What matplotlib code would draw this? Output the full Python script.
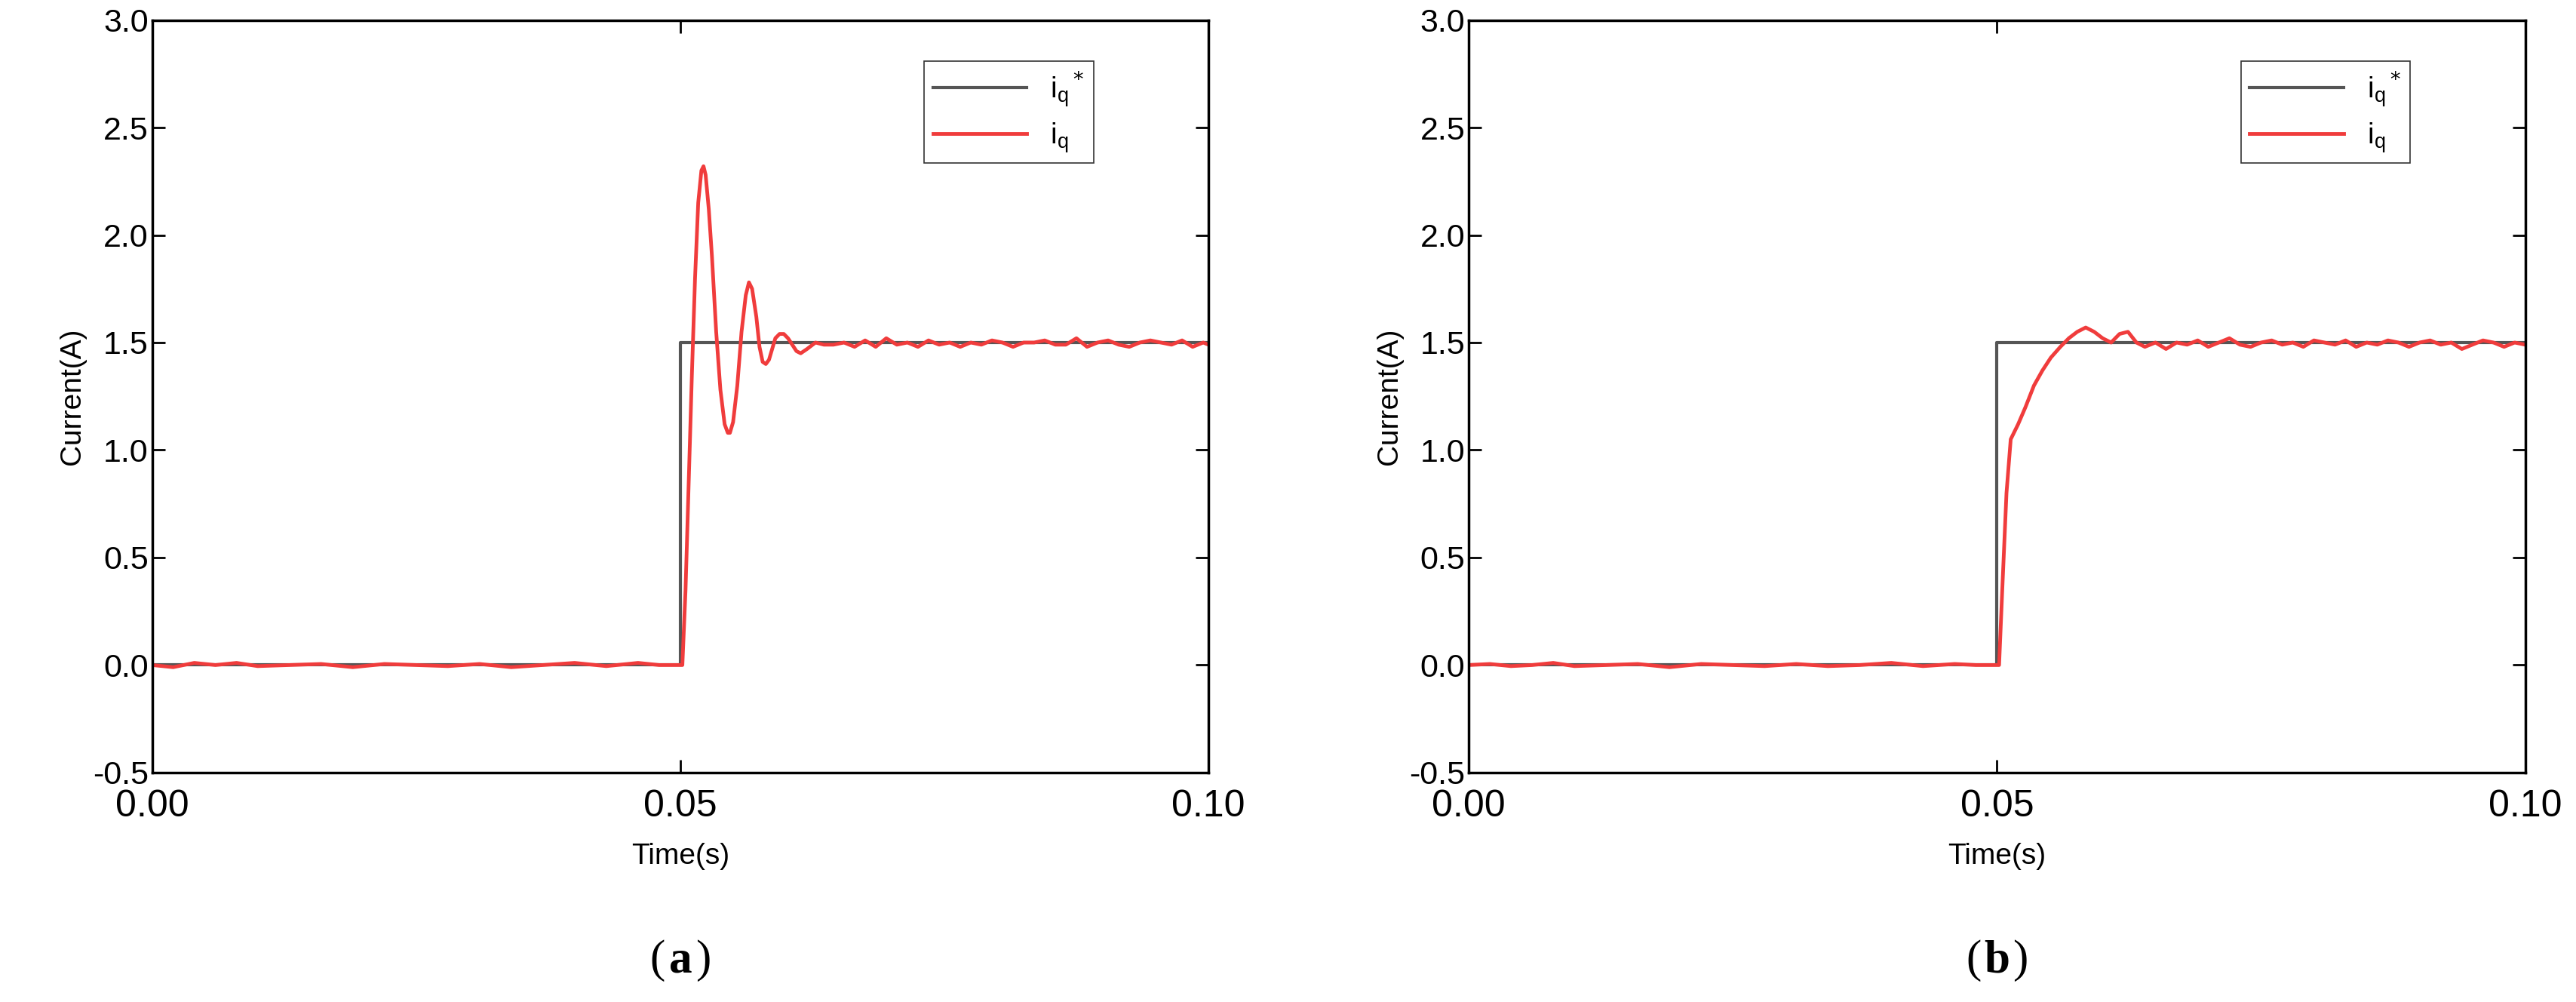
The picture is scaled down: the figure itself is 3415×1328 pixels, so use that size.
import matplotlib.pyplot as plt

plt.rcParams["font.family"] = ["Liberation Sans", "DejaVu Sans"]

GREY, RED = "#555555", "#F03C3C"

ref_t = [0.0, 0.05, 0.05, 0.1]
ref_i = [0.0, 0.0, 1.5, 1.5]

# panel (a): oscillating response
a_t = [0.0, 0.002, 0.004, 0.006, 0.008, 0.010, 0.013, 0.016, 0.019, 0.022, 0.025, 0.028,
       0.031, 0.034, 0.037, 0.040, 0.043, 0.046, 0.048, 0.0502, 0.0505, 0.0508, 0.0511,
       0.0514, 0.0517, 0.0520, 0.0522, 0.0524, 0.0527, 0.0530, 0.0534, 0.0538, 0.0542,
       0.0545, 0.0547, 0.0550, 0.0554, 0.0558, 0.0562, 0.0565, 0.0568, 0.0572, 0.0575,
       0.0578, 0.0581, 0.0584, 0.0587, 0.0590, 0.0594, 0.0598, 0.0602, 0.0606, 0.0610,
       0.0614, 0.0620, 0.0628, 0.0636, 0.0645, 0.0655,
       0.0665, 0.0675, 0.0685, 0.0695, 0.0705, 0.0715, 0.0725, 0.0735, 0.0745, 0.0755,
       0.0765, 0.0775, 0.0785, 0.0795, 0.0805, 0.0815, 0.0825, 0.0835, 0.0845, 0.0855,
       0.0865, 0.0875, 0.0885, 0.0895, 0.0905, 0.0915, 0.0925, 0.0935, 0.0945, 0.0955,
       0.0965, 0.0975, 0.0985, 0.0995, 0.1]
a_i = [0.0, -0.01, 0.01, 0.0, 0.01, -0.005, 0.0, 0.005, -0.01, 0.005, 0.0, -0.005,
       0.005, -0.01, 0.0, 0.01, -0.005, 0.01, 0.0, 0.0, 0.35, 0.85, 1.35,
       1.80, 2.15, 2.30, 2.32, 2.28, 2.12, 1.90, 1.55, 1.28, 1.12,
       1.08, 1.08, 1.13, 1.30, 1.55, 1.72, 1.78, 1.75, 1.62, 1.48,
       1.41, 1.40, 1.42, 1.47, 1.52, 1.54, 1.54, 1.52, 1.49, 1.46,
       1.45, 1.47, 1.50, 1.49, 1.49, 1.50,
       1.48, 1.51, 1.48, 1.52, 1.49, 1.50, 1.48, 1.51, 1.49, 1.50,
       1.48, 1.50, 1.49, 1.51, 1.50, 1.48, 1.50, 1.50, 1.51, 1.49,
       1.49, 1.52, 1.48, 1.50, 1.51, 1.49, 1.48, 1.50, 1.51, 1.50,
       1.49, 1.51, 1.48, 1.50, 1.49]

# panel (b): well-damped response
b_t = [0.0, 0.002, 0.004, 0.006, 0.008, 0.010, 0.013, 0.016, 0.019, 0.022, 0.025, 0.028,
       0.031, 0.034, 0.037, 0.040, 0.043, 0.046, 0.048, 0.0502, 0.0505, 0.0509, 0.0513,
       0.0520, 0.0527, 0.0535, 0.0543, 0.0551, 0.0560, 0.0568, 0.0576, 0.0584, 0.0592,
       0.0600, 0.0608, 0.0616, 0.0624, 0.0632, 0.0640, 0.0650, 0.0660, 0.0670, 0.0680,
       0.0690, 0.0700, 0.0710, 0.0720, 0.0730, 0.0740, 0.0750, 0.0760, 0.0770, 0.0780,
       0.0790, 0.0800, 0.0810, 0.0820, 0.0830, 0.0840, 0.0850, 0.0860, 0.0870, 0.0880,
       0.0890, 0.0900, 0.0910, 0.0920, 0.0930, 0.0940, 0.0950, 0.0960, 0.0970, 0.0980,
       0.0990, 0.1]
b_i = [0.0, 0.005, -0.005, 0.0, 0.01, -0.005, 0.0, 0.005, -0.01, 0.005, 0.0, -0.005,
       0.005, -0.005, 0.0, 0.01, -0.005, 0.005, 0.0, 0.0, 0.35, 0.8, 1.05,
       1.12, 1.20, 1.30, 1.37, 1.43, 1.48, 1.52, 1.55, 1.57, 1.55,
       1.52, 1.50, 1.54, 1.55, 1.50, 1.48, 1.50, 1.47, 1.50, 1.49,
       1.51, 1.48, 1.50, 1.52, 1.49, 1.48, 1.50, 1.51, 1.49, 1.50,
       1.48, 1.51, 1.50, 1.49, 1.51, 1.48, 1.50, 1.49, 1.51, 1.50,
       1.48, 1.50, 1.51, 1.49, 1.50, 1.47, 1.49, 1.51, 1.50, 1.48,
       1.50, 1.49]

y_ticks = [-0.5, 0.0, 0.5, 1.0, 1.5, 2.0, 2.5, 3.0]
y_labels = ["-0.5", "0.0", "0.5", "1.0", "1.5", "2.0", "2.5", "3.0"]

panels = [("a", a_t, a_i, [0.059, 0.229, 0.410, 0.751]),
          ("b", b_t, b_i, [0.570, 0.229, 0.410, 0.751])]

fig = plt.figure(figsize=(34.16, 13.28), dpi=100)
for tag, t, i, rect in panels:
    ax = fig.add_axes(rect)
    ax.plot(ref_t, ref_i, color=GREY, linewidth=3, label=r"i$_\mathregular{q}$$^*$")
    ax.plot(t, i, color=RED, linewidth=3.5, label=r"i$_\mathregular{q}$")
    ax.set_xlim(0, 0.1)
    ax.set_ylim(-0.5, 3.0)
    ax.set_xticks([0.0, 0.05, 0.1])
    ax.set_xticklabels(["0.00", "0.05", "0.10"])
    ax.set_yticks(y_ticks)
    ax.set_yticklabels(y_labels)
    ax.tick_params(direction="in", top=True, right=True, length=12, width=2,
                   labelsize=31)
    ax.tick_params(axis="x", labelsize=36, pad=16)
    for s in ax.spines.values():
        s.set_linewidth(2.5)
    ax.set_xlabel("Time(s)", fontsize=28, labelpad=18)
    ax.set_ylabel("Current(A)", fontsize=28, labelpad=6)
    leg = ax.legend(loc="upper right", bbox_to_anchor=(0.905, 0.965), fontsize=28,
                    fancybox=False, edgecolor="black", handlelength=3.2,
                    borderpad=0.3, labelspacing=0.4)
    leg.get_frame().set_linewidth(1.2)
    x0 = rect[0] + rect[2] / 2
    fig.text(x0 - 0.006, 0.03, "(", fontsize=44, family="Liberation Serif", ha="right")
    fig.text(x0, 0.03, tag, fontsize=44, family="Liberation Serif", weight="bold",
             ha="center")
    fig.text(x0 + 0.006, 0.03, ")", fontsize=44, family="Liberation Serif", ha="left")

fig.savefig("out.png", dpi=100)
